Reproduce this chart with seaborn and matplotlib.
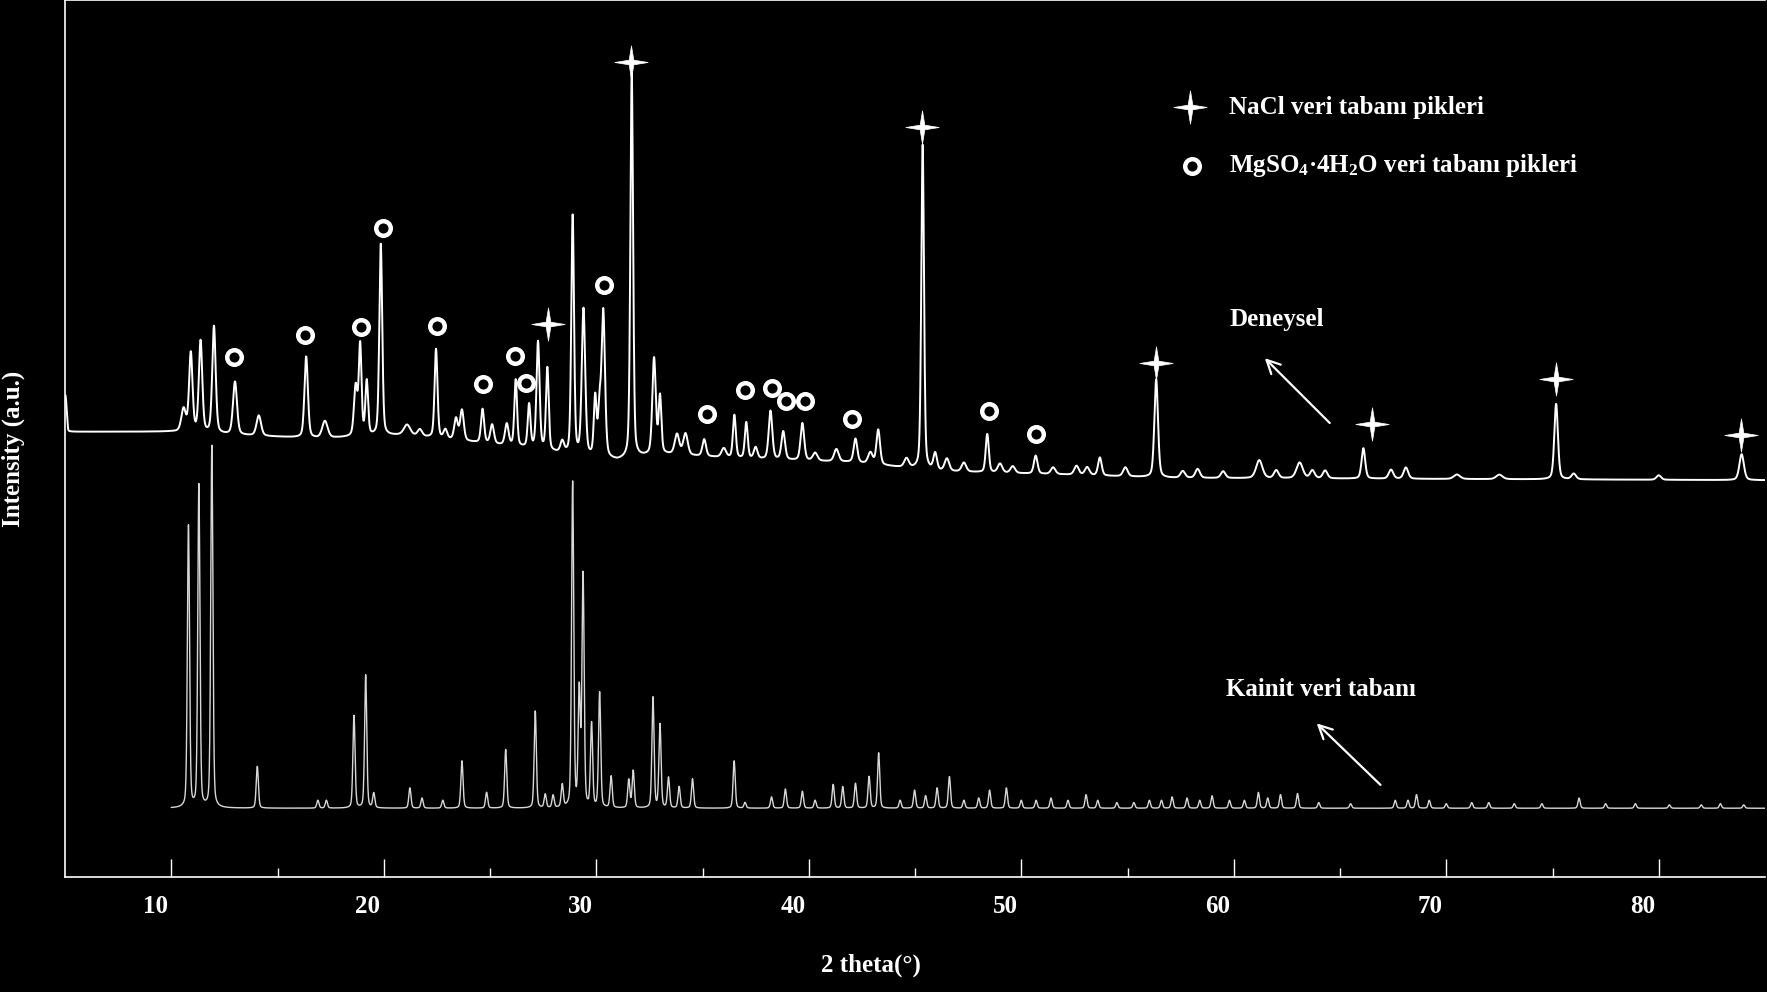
import numpy as np
import pandas as pd
import matplotlib
matplotlib.use("Agg")
import matplotlib.pyplot as plt
from matplotlib.path import Path
from matplotlib.transforms import ScaledTranslation
import seaborn as sns

# ---------------- data ----------------
# Experimental pattern ("Deneysel"): background anchors and peak list
exp_bg_pos = [5.0, 5.15, 10.0, 13.0, 17.0, 21.0, 24.0, 27.0, 29.0, 31.0, 33.0, 37.0, 42.0, 46.0, 52.0, 57.0, 85.0]
exp_bg_val = [412, 395, 395, 392, 389, 392, 386, 380, 373, 369, 375, 371, 368, 360, 357, 354, 352]

exp_peak_pos = [5.03, 10.58, 10.92, 11.38, 12.01, 13.0, 14.12, 16.35, 17.23, 18.68, 18.89, 19.2, 19.86,
                21.1, 21.7, 22.46, 22.9, 23.4, 23.68, 24.65, 25.1, 25.79, 26.21, 26.84, 27.26, 27.7,
                28.4, 28.89, 29.4, 29.95, 30.15, 30.33, 31.67, 32.72, 33.0, 33.8, 34.2, 35.08, 36.0,
                36.5, 37.06, 37.5, 38.2, 38.8, 39.7, 40.3, 41.3, 42.2, 42.9, 43.27, 44.6, 45.36,
                45.95, 46.5, 47.3, 48.4, 49.0, 49.6, 50.68, 51.5, 52.6, 53.1, 53.7, 54.9, 56.35,
                57.6, 58.3, 59.5, 61.2, 62.0, 63.1, 63.7, 64.3, 66.1, 67.4, 68.1, 70.5, 72.5,
                75.17, 76.0, 80.0, 83.9]
exp_peak_height = [18, 20, 70, 81, 95, 47, 18, 72, 15, 44, 80, 48, 170,
                   9, 6, 79, 8, 19, 27, 30, 17, 19, 59, 38, 95, 73,
                   10, 212, 130, 52, 40, 130, 342, 85, 50, 18, 19, 15, 8,
                   38, 32, 10, 43, 25, 33, 7, 11, 21, 10, 31, 8, 288,
                   15, 11, 8, 34, 8, 6, 16, 6, 8, 7, 16, 8, 87,
                   6, 8, 6, 16, 7, 14, 7, 7, 27, 8, 10, 4, 4,
                   67, 5, 4, 23]
exp_peak_fwhm = [0.12, 0.25, 0.19, 0.19, 0.19, 0.22, 0.25, 0.19, 0.3, 0.19, 0.15, 0.15, 0.16,
                 0.35, 0.25, 0.16, 0.2, 0.2, 0.2, 0.17, 0.2, 0.2, 0.15, 0.15, 0.17, 0.15,
                 0.2, 0.15, 0.19, 0.15, 0.15, 0.19, 0.15, 0.19, 0.15, 0.25, 0.25, 0.2, 0.25,
                 0.16, 0.16, 0.2, 0.2, 0.2, 0.2, 0.25, 0.25, 0.2, 0.25, 0.2, 0.25, 0.15,
                 0.2, 0.25, 0.25, 0.17, 0.25, 0.25, 0.2, 0.25, 0.25, 0.25, 0.2, 0.25, 0.2,
                 0.25, 0.25, 0.25, 0.35, 0.25, 0.35, 0.25, 0.25, 0.2, 0.25, 0.25, 0.35, 0.35,
                 0.2, 0.25, 0.25, 0.25]

# Kainite database pattern ("Kainit veri tabanı")
kai_range = [10.0, 85.0]
kai_bg_val = 61
kai_peak_pos = [10.81, 11.30, 11.91, 14.05, 16.9, 17.3, 18.6, 19.15, 19.53, 21.23, 21.8, 22.78, 23.68,
                24.84, 25.74, 27.13, 27.6, 27.97, 28.4, 28.89, 29.2, 29.38, 29.78, 30.16, 30.7, 31.53,
                31.74, 32.67, 33.0, 33.4, 33.9, 34.53, 36.49, 37.0, 38.25, 38.9, 39.7, 40.3, 41.15,
                41.6, 42.2, 42.84, 43.29, 44.3, 44.98, 45.5, 46.04, 46.62, 47.3, 48.0, 48.51, 49.3,
                50.0, 50.7, 51.4, 52.2, 53.05, 53.6, 54.5, 55.3, 56.03, 56.6, 57.1, 57.8, 58.4,
                58.98, 59.8, 60.5, 61.16, 61.6, 62.2, 63.0, 64.0, 65.5, 67.6, 68.2, 68.6, 69.2,
                70.0, 71.2, 72.0, 73.2, 74.5, 76.25, 77.5, 78.9, 80.5, 82.0, 82.9, 84.0]
kai_peak_height = [250, 286, 321, 37, 7, 7, 82, 118, 13, 18, 9, 7, 42,
                   14, 52, 86, 12, 11, 20, 288, 102, 205, 74, 102, 28, 25,
                   33, 98, 74, 27, 19, 26, 42, 5, 10, 17, 15, 7, 21,
                   19, 22, 28, 49, 7, 16, 11, 18, 28, 7, 9, 16, 18,
                   7, 7, 9, 7, 12, 7, 5, 5, 7, 7, 10, 9, 7,
                   11, 7, 7, 14, 9, 12, 13, 5, 4, 7, 7, 12, 7,
                   4, 5, 5, 4, 4, 9, 4, 4, 3, 3, 4, 3]
kai_peak_fwhm = 0.12

# Phase markers (2theta, intensity position)
nacl_pos = [27.72, 31.65, 45.34, 56.33, 66.52, 75.17, 83.87]
nacl_val = [491, 723, 665, 456, 402, 442, 392]
mgso4_pos = [12.96, 16.31, 18.91, 19.97, 22.52, 24.69, 26.18, 26.71, 30.37, 35.20, 37.0, 38.28,
             38.92, 39.82, 42.05, 48.47, 50.70]
mgso4_val = [461, 481, 488, 576, 489, 437, 462, 438, 525, 411, 432, 434, 422, 422, 406, 413, 393]

x_ticks = [10, 20, 30, 40, 50, 60, 70, 80]
x_label = "2 theta(°)"
y_label = "Intensity (a.u.)"
legend_labels = ["NaCl veri tabanı pikleri",
                 r"MgSO$_{4}$·4H$_{2}$O veri tabanı pikleri"]


def profile(x, pos, height, fwhm, eta=0.35):
    y = np.zeros_like(x)
    fwhm = np.broadcast_to(np.asarray(fwhm, dtype=float), (len(pos),))
    for p, h, w in zip(pos, height, fwhm):
        sig = w / 2.3548
        g = np.exp(-0.5 * ((x - p) / sig) ** 2)
        l = 1.0 / (1.0 + ((x - p) / (w / 2)) ** 2)
        y += h * (eta * l + (1 - eta) * g)
    return y


x_exp = np.arange(5.0, 85.0001, 0.01)
y_exp = np.interp(x_exp, exp_bg_pos, exp_bg_val) + profile(x_exp, exp_peak_pos, exp_peak_height, exp_peak_fwhm)
x_kai = np.arange(kai_range[0], kai_range[1] + 1e-4, 0.01)
y_kai = kai_bg_val + profile(x_kai, kai_peak_pos, kai_peak_height, kai_peak_fwhm, eta=0.3)

df_exp = pd.DataFrame({"x": x_exp, "y": y_exp})
df_kai = pd.DataFrame({"x": x_kai, "y": y_kai})

# ---------------- style ----------------
sns.set_style("ticks")
plt.rcParams.update({
    "font.family": ["Liberation Serif", "DejaVu Serif"],
    "font.weight": "bold",
    "mathtext.fontset": "custom",
    "mathtext.rm": "Liberation Serif:bold",
    "mathtext.it": "Liberation Serif:bold",
    "mathtext.bf": "Liberation Serif:bold",
    "figure.facecolor": "black",
    "axes.facecolor": "black",
    "savefig.facecolor": "black",
    "text.color": "white",
})

fig = plt.figure(figsize=(17.67, 9.92), dpi=100)
ax = fig.add_axes([65 / 1767, 115 / 992, 1700 / 1767, 877 / 992])
ax.set_facecolor("black")

sns.lineplot(data=df_exp, x="x", y="y", ax=ax, color="white", lw=1.4,
             estimator=None, sort=False)
sns.lineplot(data=df_kai, x="x", y="y", ax=ax, color="#d8d8d8", lw=1.0,
             estimator=None, sort=False)

# markers
star = Path([(0, 1), (0.14, 0.14), (1, 0), (0.14, -0.14), (0, -1), (-0.14, -0.14),
             (-1, 0), (-0.14, 0.14), (0, 1)],
            [Path.MOVETO] + [Path.LINETO] * 7 + [Path.CLOSEPOLY])
ax.plot(nacl_pos, nacl_val, ls="none", marker=star, ms=24, color="white", mec="white", mew=0.5)
ax.plot(mgso4_pos, mgso4_val, ls="none", marker="o", ms=10.5, mfc="none", mec="white", mew=3.2)

# legend (drawn manually)
ax.plot([57.92], [683], ls="none", marker=star, ms=24, color="white", mec="white", mew=0.5)
ax.plot([58.03], [631], ls="none", marker="o", ms=10.5, mfc="none", mec="white", mew=3.2)
ax.text(59.78, 683, legend_labels[0], color="white", fontsize=18, fontweight="bold",
        va="center", ha="left")
ax.text(59.78, 631, legend_labels[1], color="white", fontsize=18, fontweight="bold",
        va="center", ha="left")

# annotations
ax.annotate("", xy=(61.37, 462), xytext=(64.61, 401),
            arrowprops=dict(arrowstyle="->", color="white", lw=1.6, mutation_scale=24))
ax.text(59.78, 495, "Deneysel", color="white", fontsize=18, fontweight="bold", va="center", ha="left")
ax.annotate("", xy=(63.81, 138), xytext=(67.0, 80),
            arrowprops=dict(arrowstyle="->", color="white", lw=1.6, mutation_scale=24))
ax.text(59.62, 166, "Kainit veri tabanı", color="white", fontsize=18, fontweight="bold",
        va="center", ha="left")

# axes
ax.set_xlim(5, 85)
ax.set_ylim(0, 778)
ax.set_xticks(x_ticks)
ax.set_xticks(np.arange(15, 85, 10), minor=True)
ax.set_yticks([])
ax.tick_params(axis="x", which="major", direction="in", length=13, width=1, color="white",
               labelcolor="white", labelsize=18, pad=13)
ax.tick_params(axis="x", which="minor", direction="in", length=6.5, width=1, color="white")
for lab in ax.get_xticklabels():
    lab.set_fontweight("bold")
    lab.set_transform(lab.get_transform() + ScaledTranslation(-0.16, 0, fig.dpi_scale_trans))

for side in ["left", "bottom", "top"]:
    ax.spines[side].set_color("white")
    ax.spines[side].set_linewidth(1.2)
ax.spines["right"].set_visible(False)

ax.set_xlabel(x_label, color="white", fontsize=18, fontweight="bold")
ax.set_ylabel(y_label, color="white", fontsize=18, fontweight="bold")
ax.xaxis.set_label_coords(0.474, -0.087)
ax.yaxis.set_label_coords(-0.0235, 0.4886)

fig.savefig("out.png", dpi=100, facecolor="black")
